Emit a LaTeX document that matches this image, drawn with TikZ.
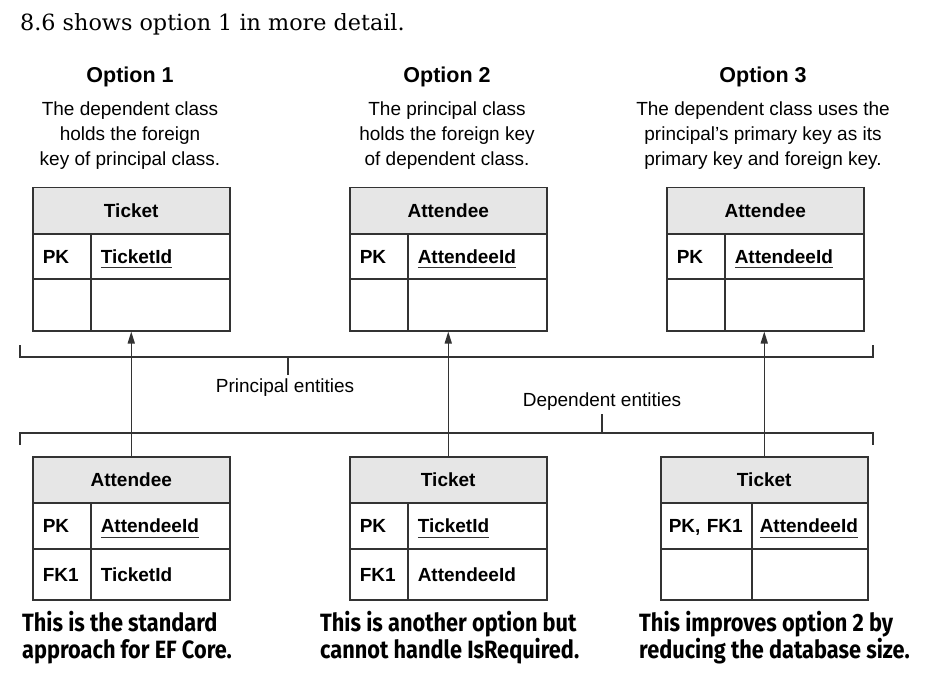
\documentclass[tikz,border=0pt]{standalone}
\usepackage{fontspec}
\usetikzlibrary{arrows.meta}

\newfontfamily\diafont{Liberation Sans}
\newfontfamily\leadfont{DejaVu Serif}
\newfontfamily\notefont{Fira Sans}[FakeStretch=0.87]
\definecolor{linec}{HTML}{333333}
\definecolor{headc}{HTML}{E6E6E6}
% underlined primary key name
\newcommand{\pkname}[1]{\setbox0\hbox{#1}\rlap{\smash{\color{linec}\rule[-5pt]{\wd0}{0.9pt}}}#1}

\tikzset{
  cell/.style={draw=linec, line width=1.5pt, anchor=north west, inner ysep=0pt, inner xsep=10pt,
    text height=13.7pt, text depth=0pt,
    align=left, font=\diafont\bfseries\fontsize{19}{23}\selectfont},
  headcell/.style={cell, fill=headc, text width=177pt, align=center, minimum height=46pt},
  keycell/.style={cell, text width=38pt, minimum height=#1},
  namecell/.style={cell, text width=119pt, minimum height=#1},
  title/.style={font=\diafont\bfseries\fontsize{21.5}{25}\selectfont},
  desc/.style={align=center, font=\diafont\fontsize{19}{25}\selectfont},
  note/.style={anchor=north west, align=left, inner sep=0pt, font=\notefont\bfseries\fontsize{25}{27}\selectfont},
  bracket/.style={draw=linec, line width=1.5pt},
  link/.style={draw=linec, line width=1.5pt, -{Triangle[length=12pt, width=7pt]}},
}

\begin{document}
\begin{tikzpicture}[x=1pt, y=-1pt]
\useasboundingbox (0,0) rectangle (942,687);

\node[anchor=base west, inner sep=0pt, font=\leadfont\fontsize{22.3}{26}\selectfont] (lead) at (20,31) {8.6 shows option 1 in more detail.};

% option titles and descriptions
\node[title] (o1) at (130,77) {Option 1};
\node[desc] (o1desc) at (130,136) {The dependent class\\holds the foreign\\key of principal class.};
\node[title] (o2) at (447,77) {Option 2};
\node[desc] (o2desc) at (447,136) {The principal class\\holds the foreign key\\of dependent class.};
\node[title] (o3) at (763,77) {Option 3};
\node[desc] (o3desc) at (763,136) {The dependent class uses the\\principal’s primary key as its\\primary key and foreign key.};

% principal tables
\node[headcell] (p1head) at (32,187) {Ticket};
\node[keycell=45pt] (p1key) at (32,233) {PK};
\node[namecell=45pt] (p1name) at (90,233) {\pkname{TicketId}};
\node[keycell=52pt] (p1key2) at (32,278) {};
\node[namecell=52pt] (p1name2) at (90,278) {};

\node[headcell] (p2head) at (349,187) {Attendee};
\node[keycell=45pt] (p2key) at (349,233) {PK};
\node[namecell=45pt] (p2name) at (407,233) {\pkname{AttendeeId}};
\node[keycell=52pt] (p2key2) at (349,278) {};
\node[namecell=52pt] (p2name2) at (407,278) {};

\node[headcell] (p3head) at (666,187) {Attendee};
\node[keycell=45pt] (p3key) at (666,233) {PK};
\node[namecell=45pt] (p3name) at (724,233) {\pkname{AttendeeId}};
\node[keycell=52pt] (p3key2) at (666,278) {};
\node[namecell=52pt] (p3name2) at (724,278) {};

% brackets
\draw[bracket] (20,345) -- (20,357) -- (873,357) -- (873,345);
\coordinate (ptick) at (288,357);
\node[desc] (plabel) at (285,388) {Principal entities};
\draw[bracket] (ptick) -- ++(0,18);

\node[desc] (dlabel) at (602,402) {Dependent entities};
\coordinate (dtick) at (602,433);
\draw[bracket] (20,445) -- (20,433) -- (873,433) -- (873,445);
\draw[bracket] (dtick) -- (dtick |- dlabel.south);

% dependent tables
\node[headcell] (d1head) at (32,456) {Attendee};
\node[keycell=46pt] (d1key) at (32,502) {PK};
\node[namecell=46pt] (d1name) at (90,502) {\pkname{AttendeeId}};
\node[keycell=51pt] (d1key2) at (32,548) {FK1};
\node[namecell=51pt] (d1name2) at (90,548) {TicketId};

\node[headcell] (d2head) at (349,456) {Ticket};
\node[keycell=46pt] (d2key) at (349,502) {PK};
\node[namecell=46pt] (d2name) at (407,502) {\pkname{TicketId}};
\node[keycell=51pt] (d2key2) at (349,548) {FK1};
\node[namecell=51pt] (d2name2) at (407,548) {AttendeeId};

\node[headcell, text width=191pt, inner xsep=8pt] (d3head) at (660,456) {Ticket};
\node[keycell=46pt, text width=75pt, inner xsep=8pt] (d3key) at (660,502) {PK, FK1};
\node[namecell=46pt, text width=100pt, inner xsep=8pt] (d3name) at (751,502) {\pkname{AttendeeId}};
\node[keycell=51pt, text width=75pt, inner xsep=8pt] (d3key2) at (660,548) {};
\node[namecell=51pt, text width=100pt, inner xsep=8pt] (d3name2) at (751,548) {};

% foreign key links
\draw[link] (d1head.north) -- (d1head.north |- p1key2.south);
\draw[link] (d2head.north) -- (d2head.north |- p2key2.south);
\draw[link] (d3head.north) -- (d3head.north |- p3key2.south);

% notes
\node[note] (n1) at (22,611) {This is the standard\\approach for EF Core.};
\node[note] (n2) at (320,611) {This is another option but\\cannot handle IsRequired.};
\node[note] (n3) at (639,611) {This improves option 2 by\\reducing the database size.};
\end{tikzpicture}
\end{document}
